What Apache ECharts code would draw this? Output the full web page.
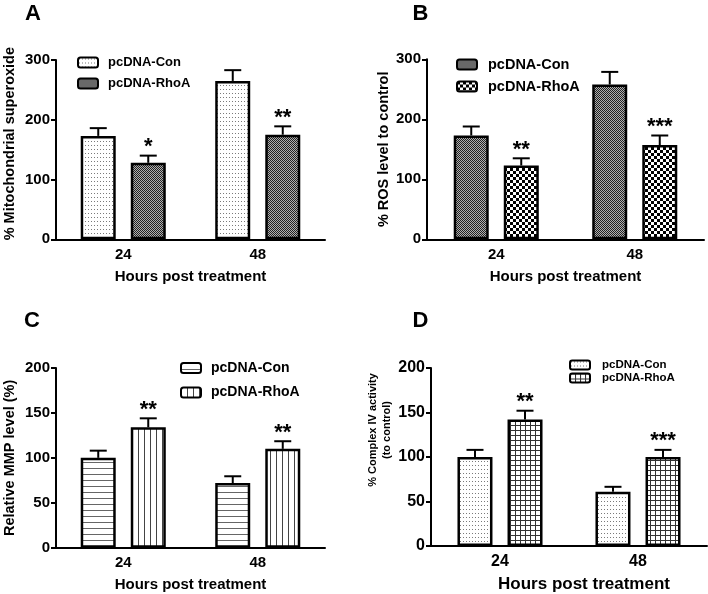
<!DOCTYPE html>
<html>
<head>
<meta charset="utf-8">
<script src="https://cdn.jsdelivr.net/npm/echarts@6/dist/echarts.min.js"></script>
<style>html,body{margin:0;padding:0;background:#fff}#c{width:708px;height:594px}</style>
</head>
<body>
<div id="c"></div>
<script>
// ---------- data ----------
const categories = ['24', '48'];
const seriesNames = ['pcDNA-Con', 'pcDNA-RhoA'];

const aCon = [173, 265];   const aConErr = [13, 18];
const aRho = [128, 175];   const aRhoErr = [12, 14];
const aStars = ['*', '**'];

const bCon = [173, 258];   const bConErr = [15, 21];
const bRho = [123, 157];   const bRhoErr = [12, 16];
const bStars = ['**', '***'];

const cCon = [100, 72];    const cConErr = [8, 7.5];
const cRho = [134, 110];   const cRhoErr = [10, 8.5];
const cStars = ['**', '**'];

const dCon = [100, 61];    const dConErr = [8, 5.5];
const dRho = [142, 100];   const dRhoErr = [10, 8];
const dStars = ['**', '***'];

const yNames = ['% Mitochondrial superoxide', '% ROS level to control', 'Relative MMP level (%)', '% Complex IV activity\n(to control)'];
const xName = 'Hours post treatment';
const panelLetters = ['A', 'B', 'C', 'D'];

// ---------- patterns ----------
function pat(w, h, draw) {
  const cv = document.createElement('canvas');
  cv.width = w; cv.height = h;
  const ctx = cv.getContext('2d');
  ctx.fillStyle = '#fff'; ctx.fillRect(0, 0, w, h);
  draw(ctx);
  return { image: cv, repeat: 'repeat' };
}
const pDots = pat(3, 4, c => { c.fillStyle = '#7a7a7a'; c.fillRect(1, 1, 1, 1); });
const pDense = pat(2, 2, c => { c.fillStyle = '#222'; c.fillRect(0, 0, 1, 1); c.fillRect(1, 1, 1, 1); c.fillStyle = '#b0b0b0'; c.fillRect(1, 0, 1, 1); c.fillRect(0, 1, 1, 1); });
const pChecker = pat(6, 6, c => { c.fillStyle = '#000'; c.fillRect(0, 0, 3, 3); c.fillRect(3, 3, 3, 3); });
const pHLines = pat(1, 6, c => { c.fillStyle = '#666'; c.fillRect(0, 0, 1, 1); });
const pVLines = pat(6, 1, c => { c.fillStyle = '#444'; c.fillRect(0, 0, 1, 1); });
const pGrid = pat(5, 5, c => { c.fillStyle = '#333'; c.fillRect(0, 0, 5, 1); c.fillRect(0, 0, 1, 5); });

const FONT = "'Liberation Sans', Arial, sans-serif";

const panels = [
  { con: aCon, conErr: aConErr, rho: aRho, rhoErr: aRhoErr, stars: aStars, pc: pDots, pr: pDense, max: 300, interval: 100,
    grid: { left: 52, right: 383, top: 60, bottom: 354.7 }, nameGap: 38, yFont: 14.5, yPad: 12, tickFont: 15, xNameFont: 15, xNamePad: 0,
    legend: { left: 77, top: 56, gap: 8, font: 13, h: 10, pad: 5 }, letter: { left: 25, top: 3 } },
  { con: bCon, conErr: bConErr, rho: bRho, rhoErr: bRhoErr, stars: bStars, pc: pDense, pr: pChecker, max: 300, interval: 100,
    grid: { left: 427, right: 4, top: 59.3, bottom: 354.7 }, nameGap: 30, yFont: 14.5, yPad: 0, tickFont: 15, xNameFont: 15, xNamePad: 0,
    legend: { left: 456, top: 57, gap: 7, font: 14.5, h: 10, pad: 6 }, letter: { left: 412.5, top: 3 } },
  { con: cCon, conErr: cConErr, rho: cRho, rhoErr: cRhoErr, stars: cStars, pc: pHLines, pr: pVLines, max: 200, interval: 50,
    grid: { left: 52, right: 383, top: 368, bottom: 46.3 }, nameGap: 38, yFont: 14.5, yPad: 0, tickFont: 15, xNameFont: 15, xNamePad: 0,
    legend: { left: 180, top: 361, gap: 10.5, font: 14, h: 10, pad: 5 }, letter: { left: 24, top: 310 } },
  { con: dCon, conErr: dConErr, rho: dRho, rhoErr: dRhoErr, stars: dStars, pc: pDots, pr: pGrid, max: 200, interval: 50,
    grid: { left: 431, right: 1, top: 368, bottom: 46.3 }, nameGap: 34, yFont: 11, yPad: 54, yLine: 14, tickFont: 16, xNameFont: 17, xNamePad: 30,
    legend: { left: 569, top: 359, gap: 1, font: 11.5, h: 9, pad: 7 }, letter: { left: 412.5, top: 310 } }
];

const grids = [], xAxes = [], yAxes = [], series = [], legends = [], titles = [];

function errSeries(i, vals, errs, sign, stars) {
  return {
    type: 'custom', xAxisIndex: i, yAxisIndex: i, z: 5, silent: true,
    data: vals.map((v, k) => [k, v, errs[k]]),
    renderItem: (params, api) => {
      const cat = api.value(0), v = api.value(1), e = api.value(2);
      const base = api.coord([cat, v]);
      const top = api.coord([cat, v + e]);
      const x = base[0] + sign * 25;
      const children = [
        { type: 'line', shape: { x1: x, y1: base[1], x2: x, y2: top[1] }, style: { stroke: '#000', lineWidth: 2 } },
        { type: 'line', shape: { x1: x - 8.5, y1: top[1], x2: x + 8.5, y2: top[1] }, style: { stroke: '#000', lineWidth: 2 } }
      ];
      const s = stars ? stars[params.dataIndex] : '';
      if (s) {
        children.push({ type: 'text', style: { text: s, x: x, y: top[1] - 8.5, align: 'center', verticalAlign: 'middle',
          font: 'bold 22px ' + FONT, fill: '#000' } });
      }
      return { type: 'group', children };
    }
  };
}

panels.forEach((p, i) => {
  grids.push(Object.assign({ containLabel: false }, p.grid));
  xAxes.push({
    type: 'category', gridIndex: i, data: categories,
    name: xName, nameLocation: 'middle', nameGap: 30,
    nameTextStyle: { fontFamily: FONT, fontWeight: 'bold', fontSize: p.xNameFont, color: '#000', padding: [0, 0, 0, p.xNamePad] },
    axisLine: { lineStyle: { color: '#000', width: 2 } },
    axisTick: { alignWithLabel: true, length: 5, lineStyle: { color: '#000', width: 2 } },
    axisLabel: { interval: 0, margin: 8, fontFamily: FONT, fontWeight: 'bold', fontSize: p.tickFont, color: '#000' },
    splitLine: { show: false }
  });
  yAxes.push({
    type: 'value', gridIndex: i, min: 0, max: p.max, interval: p.interval,
    name: yNames[i], nameLocation: 'middle', nameGap: p.nameGap,
    nameTextStyle: { fontFamily: FONT, fontWeight: 'bold', fontSize: p.yFont, color: '#000',
      lineHeight: p.yLine || Math.round(p.yFont * 1.2), padding: [0, 0, 0, p.yPad] },
    axisLine: { show: true, lineStyle: { color: '#000', width: 2 } },
    axisTick: { show: true, length: 5, lineStyle: { color: '#000', width: 2 } },
    axisLabel: { margin: 6, fontFamily: FONT, fontWeight: 'bold', fontSize: p.tickFont, color: '#000' },
    splitLine: { show: false }
  });
  const nCon = seriesNames[0] + '|' + i, nRho = seriesNames[1] + '|' + i;
  series.push({
    name: nCon, type: 'bar', xAxisIndex: i, yAxisIndex: i, data: p.con, barWidth: 35, barGap: '43%',
    itemStyle: { color: p.pc, borderColor: '#000', borderWidth: 2.5 }
  });
  series.push({
    name: nRho, type: 'bar', xAxisIndex: i, yAxisIndex: i, data: p.rho, barWidth: 35, barGap: '43%',
    itemStyle: { color: p.pr, borderColor: '#000', borderWidth: 2.5 }
  });
  series.push(errSeries(i, p.con, p.conErr, -1, null));
  series.push(errSeries(i, p.rho, p.rhoErr, 1, p.stars));
  legends.push({
    data: [nCon, nRho], orient: 'vertical', left: p.legend.left, top: p.legend.top, padding: 0,
    itemWidth: 20, itemHeight: p.legend.h, itemGap: p.legend.gap, icon: 'roundRect', selectedMode: false,
    formatter: n => n.split('|')[0],
    itemStyle: { borderColor: '#000', borderWidth: 2 },
    textStyle: { fontFamily: FONT, fontWeight: 'bold', fontSize: p.legend.font, color: '#000', padding: [0, 0, 0, p.legend.pad] }
  });
  titles.push({
    text: panelLetters[i], left: p.letter.left, top: p.letter.top, padding: 0,
    textStyle: { fontFamily: FONT, fontWeight: 'bold', fontSize: 22, color: '#000' }
  });
});

const chart = echarts.init(document.getElementById('c'), null, { renderer: 'canvas' });
chart.setOption({
  animation: false,
  backgroundColor: '#fff',
  title: titles,
  legend: legends,
  grid: grids,
  xAxis: xAxes,
  yAxis: yAxes,
  series: series
});
</script>
</body>
</html>
